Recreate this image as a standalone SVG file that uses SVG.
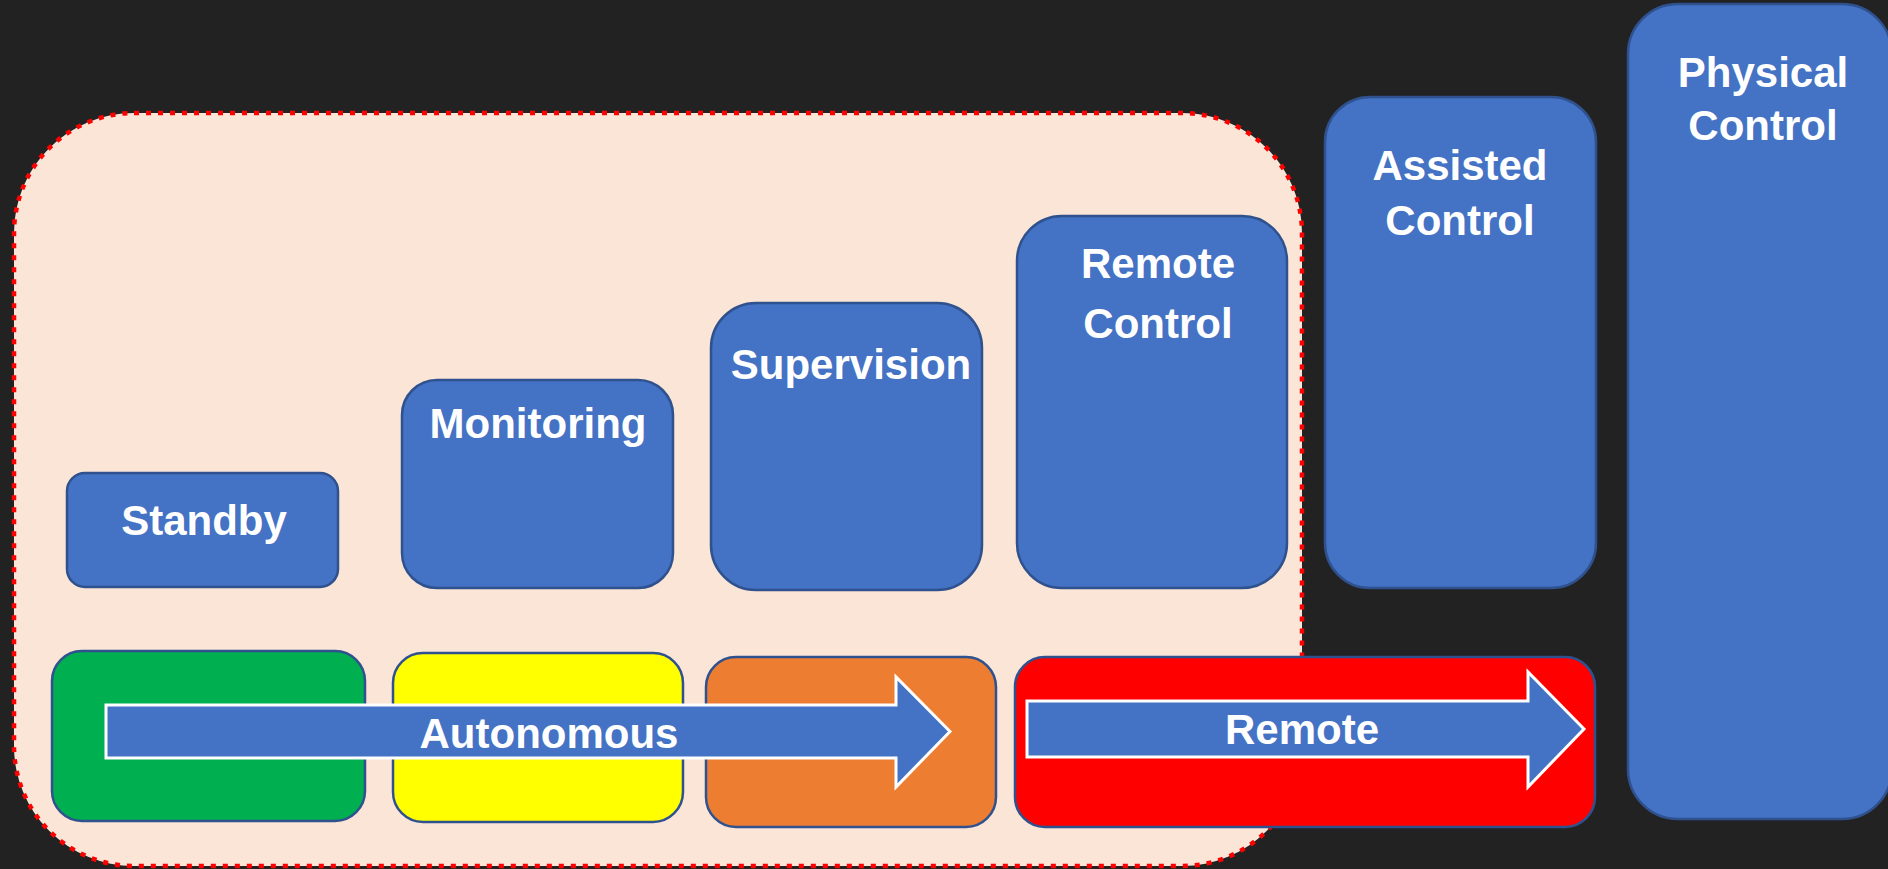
<svg xmlns="http://www.w3.org/2000/svg" width="1888" height="869" viewBox="0 0 1888 869">
  <style>
    .lvl { fill: #4472C4; stroke: #2F528F; stroke-width: 2.5; }
    .band { stroke: #2F528F; stroke-width: 2.5; }
    .arrow { fill: #4472C4; stroke: #FFFFFF; stroke-width: 3; stroke-linejoin: miter; }
    .lbl { font-family: "Liberation Sans", Arial, sans-serif; font-weight: bold; font-size: 42px; fill: #FFFFFF; text-anchor: middle; }
  </style>

  <!-- background -->
  <rect x="0" y="0" width="1888" height="869" fill="#222222"/>

  <!-- onboard zone (dotted red outline) -->
  <g id="zone">
    <rect x="14" y="113" width="1288" height="753" rx="120" ry="120" fill="#FBE5D6" stroke="#FF0000" stroke-width="4.5" stroke-dasharray="5 7"/>
  </g>

  <!-- control levels -->
  <g id="standby">
    <rect class="lvl" x="67" y="473" width="271" height="114" rx="18"/>
    <text class="lbl" x="204" y="535">Standby</text>
  </g>
  <g id="monitoring">
    <rect class="lvl" x="402" y="380" width="271" height="208" rx="35"/>
    <text class="lbl" x="538" y="438">Monitoring</text>
  </g>
  <g id="supervision">
    <rect class="lvl" x="711" y="303" width="271" height="287" rx="45"/>
    <text class="lbl" x="851" y="379">Supervision</text>
  </g>
  <g id="remote-control">
    <rect class="lvl" x="1017" y="216" width="270" height="372" rx="45"/>
    <text class="lbl" x="1158" y="278">Remote</text>
    <text class="lbl" x="1158" y="338">Control</text>
  </g>
  <g id="assisted-control">
    <rect class="lvl" x="1325" y="97" width="271" height="491" rx="45"/>
    <text class="lbl" x="1460" y="180">Assisted</text>
    <text class="lbl" x="1460" y="235">Control</text>
  </g>
  <g id="physical-control">
    <rect class="lvl" x="1628" y="4" width="264" height="815" rx="50"/>
    <text class="lbl" x="1763" y="87">Physical</text>
    <text class="lbl" x="1763" y="140">Control</text>
  </g>

  <!-- colour bands -->
  <g id="band-green">
    <rect class="band" x="52" y="651" width="313" height="170" rx="30" fill="#00B050"/>
  </g>
  <g id="band-yellow">
    <rect class="band" x="393" y="653" width="290" height="169" rx="30" fill="#FFFF00"/>
  </g>
  <g id="band-orange">
    <rect class="band" x="706" y="657" width="290" height="170" rx="30" fill="#ED7D31"/>
  </g>
  <g id="band-red">
    <rect class="band" x="1015" y="657" width="580" height="170" rx="30" fill="#FF0000"/>
  </g>

  <!-- mode arrows -->
  <g id="connectors">
    <g id="arrow-autonomous">
      <path class="arrow" d="M106,705 L896,705 L896,677 L950,731.5 L896,787 L896,758 L106,758 Z"/>
      <text class="lbl" x="549" y="748">Autonomous</text>
    </g>
    <g id="arrow-remote">
      <path class="arrow" d="M1027,701 L1528,701 L1528,672 L1584,729 L1528,787 L1528,757 L1027,757 Z"/>
      <text class="lbl" x="1302" y="744">Remote</text>
    </g>
  </g>
</svg>
